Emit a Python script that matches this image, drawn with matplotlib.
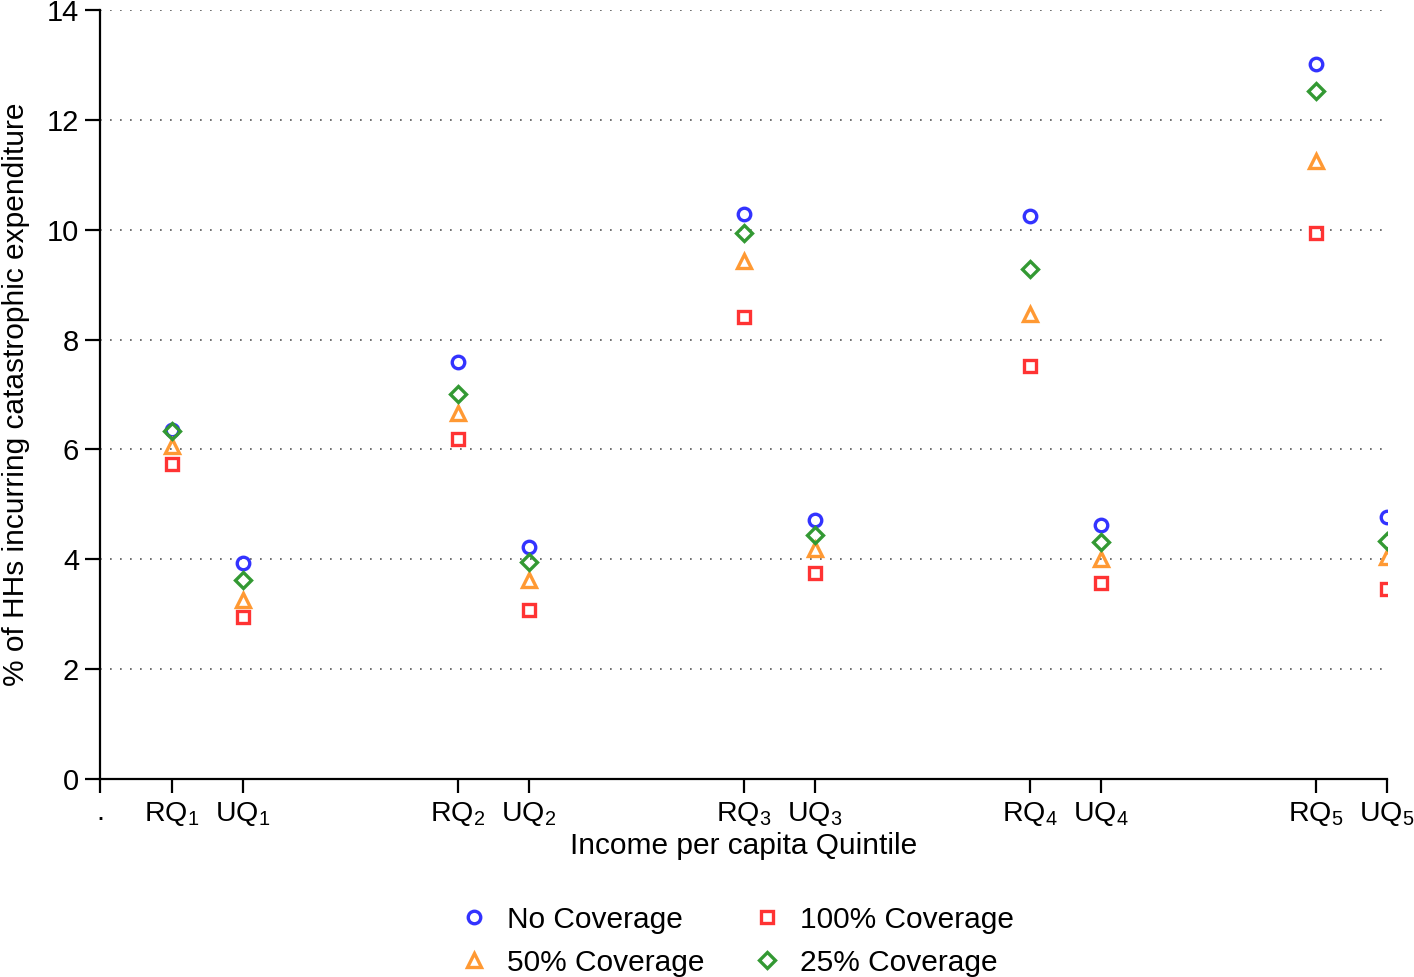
import matplotlib
matplotlib.use("Agg")
import matplotlib.pyplot as plt

plt.rcParams['font.family'] = ['Liberation Sans', 'DejaVu Sans']
plt.rcParams['mathtext.default'] = 'regular'

positions = [0, 1, 2, 5, 6, 9, 10, 13, 14, 17, 18]
tick_labels = ['.', 'RQ$_1$', 'UQ$_1$', 'RQ$_2$', 'UQ$_2$', 'RQ$_3$', 'UQ$_3$',
               'RQ$_4$', 'UQ$_4$', 'RQ$_5$', 'UQ$_5$']
point_x = [1, 2, 5, 6, 9, 10, 13, 14, 17, 18]

no_coverage = [6.35, 3.93, 7.59, 4.22, 10.29, 4.72, 10.25, 4.62, 13.02, 4.77]
cov_100 = [5.73, 2.95, 6.19, 3.08, 8.41, 3.75, 7.52, 3.57, 9.94, 3.46]
cov_50 = [6.06, 3.26, 6.66, 3.62, 9.43, 4.19, 8.47, 4.01, 11.25, 4.04]
cov_25 = [6.34, 3.62, 7.01, 3.95, 9.94, 4.44, 9.28, 4.31, 12.53, 4.33]

fig = plt.figure(figsize=(14.14, 9.77), dpi=100)
ax = fig.add_axes([100/1414, 1-779/977, (1387-100)/1414, (779-10)/977])

ms = 9
mew = 2.4
h1, = ax.plot(point_x, no_coverage, 'o', ls='none', mfc='none', mec='#3333ff', ms=ms, mew=mew, label='No Coverage', zorder=3)
h2, = ax.plot(point_x, cov_100, 's', ls='none', mfc='none', mec='#ff3333', ms=ms-0.5, mew=mew, label='100% Coverage', zorder=3)
h3, = ax.plot(point_x, cov_50, '^', ls='none', mfc='none', mec='#ff9933', ms=ms+0.5, mew=mew, label='50% Coverage', zorder=3)
h4, = ax.plot(point_x, cov_25, 'D', ls='none', mfc='none', mec='#339933', ms=ms-0.5, mew=mew, label='25% Coverage', zorder=3)

ax.set_xlim(0, 18)
ax.set_ylim(0, 14)
ax.set_xticks(positions)
ax.set_xticklabels(tick_labels, fontsize=20.5)
ax.set_yticks(range(0, 15, 2))
ax.tick_params(axis='y', labelsize=21, length=11, width=1.6, pad=4)
ax.tick_params(axis='x', length=10, width=1.6, pad=5)
for s in ['top', 'right']:
    ax.spines[s].set_visible(False)
for s in ['left', 'bottom']:
    ax.spines[s].set_linewidth(1.6)
for y in range(2, 15, 2):
    ax.axhline(y, color='#555555', ls=(0, (1, 5)), lw=1.2, zorder=1)

ax.set_xlabel('Income per capita Quintile', fontsize=21.5, labelpad=3)
ax.set_ylabel('% of HHs incurring catastrophic expenditure', fontsize=21.5, labelpad=12)

fig.legend([h1, h3, h2, h4], ['No Coverage', '50% Coverage', '100% Coverage', '25% Coverage'],
           ncol=2, loc='lower center', bbox_to_anchor=(0.52, -0.027), frameon=False,
           fontsize=21.5, handletextpad=0.5, columnspacing=1.5, labelspacing=0.5,
           handlelength=1.2)

fig.savefig('out.png', dpi=100)
